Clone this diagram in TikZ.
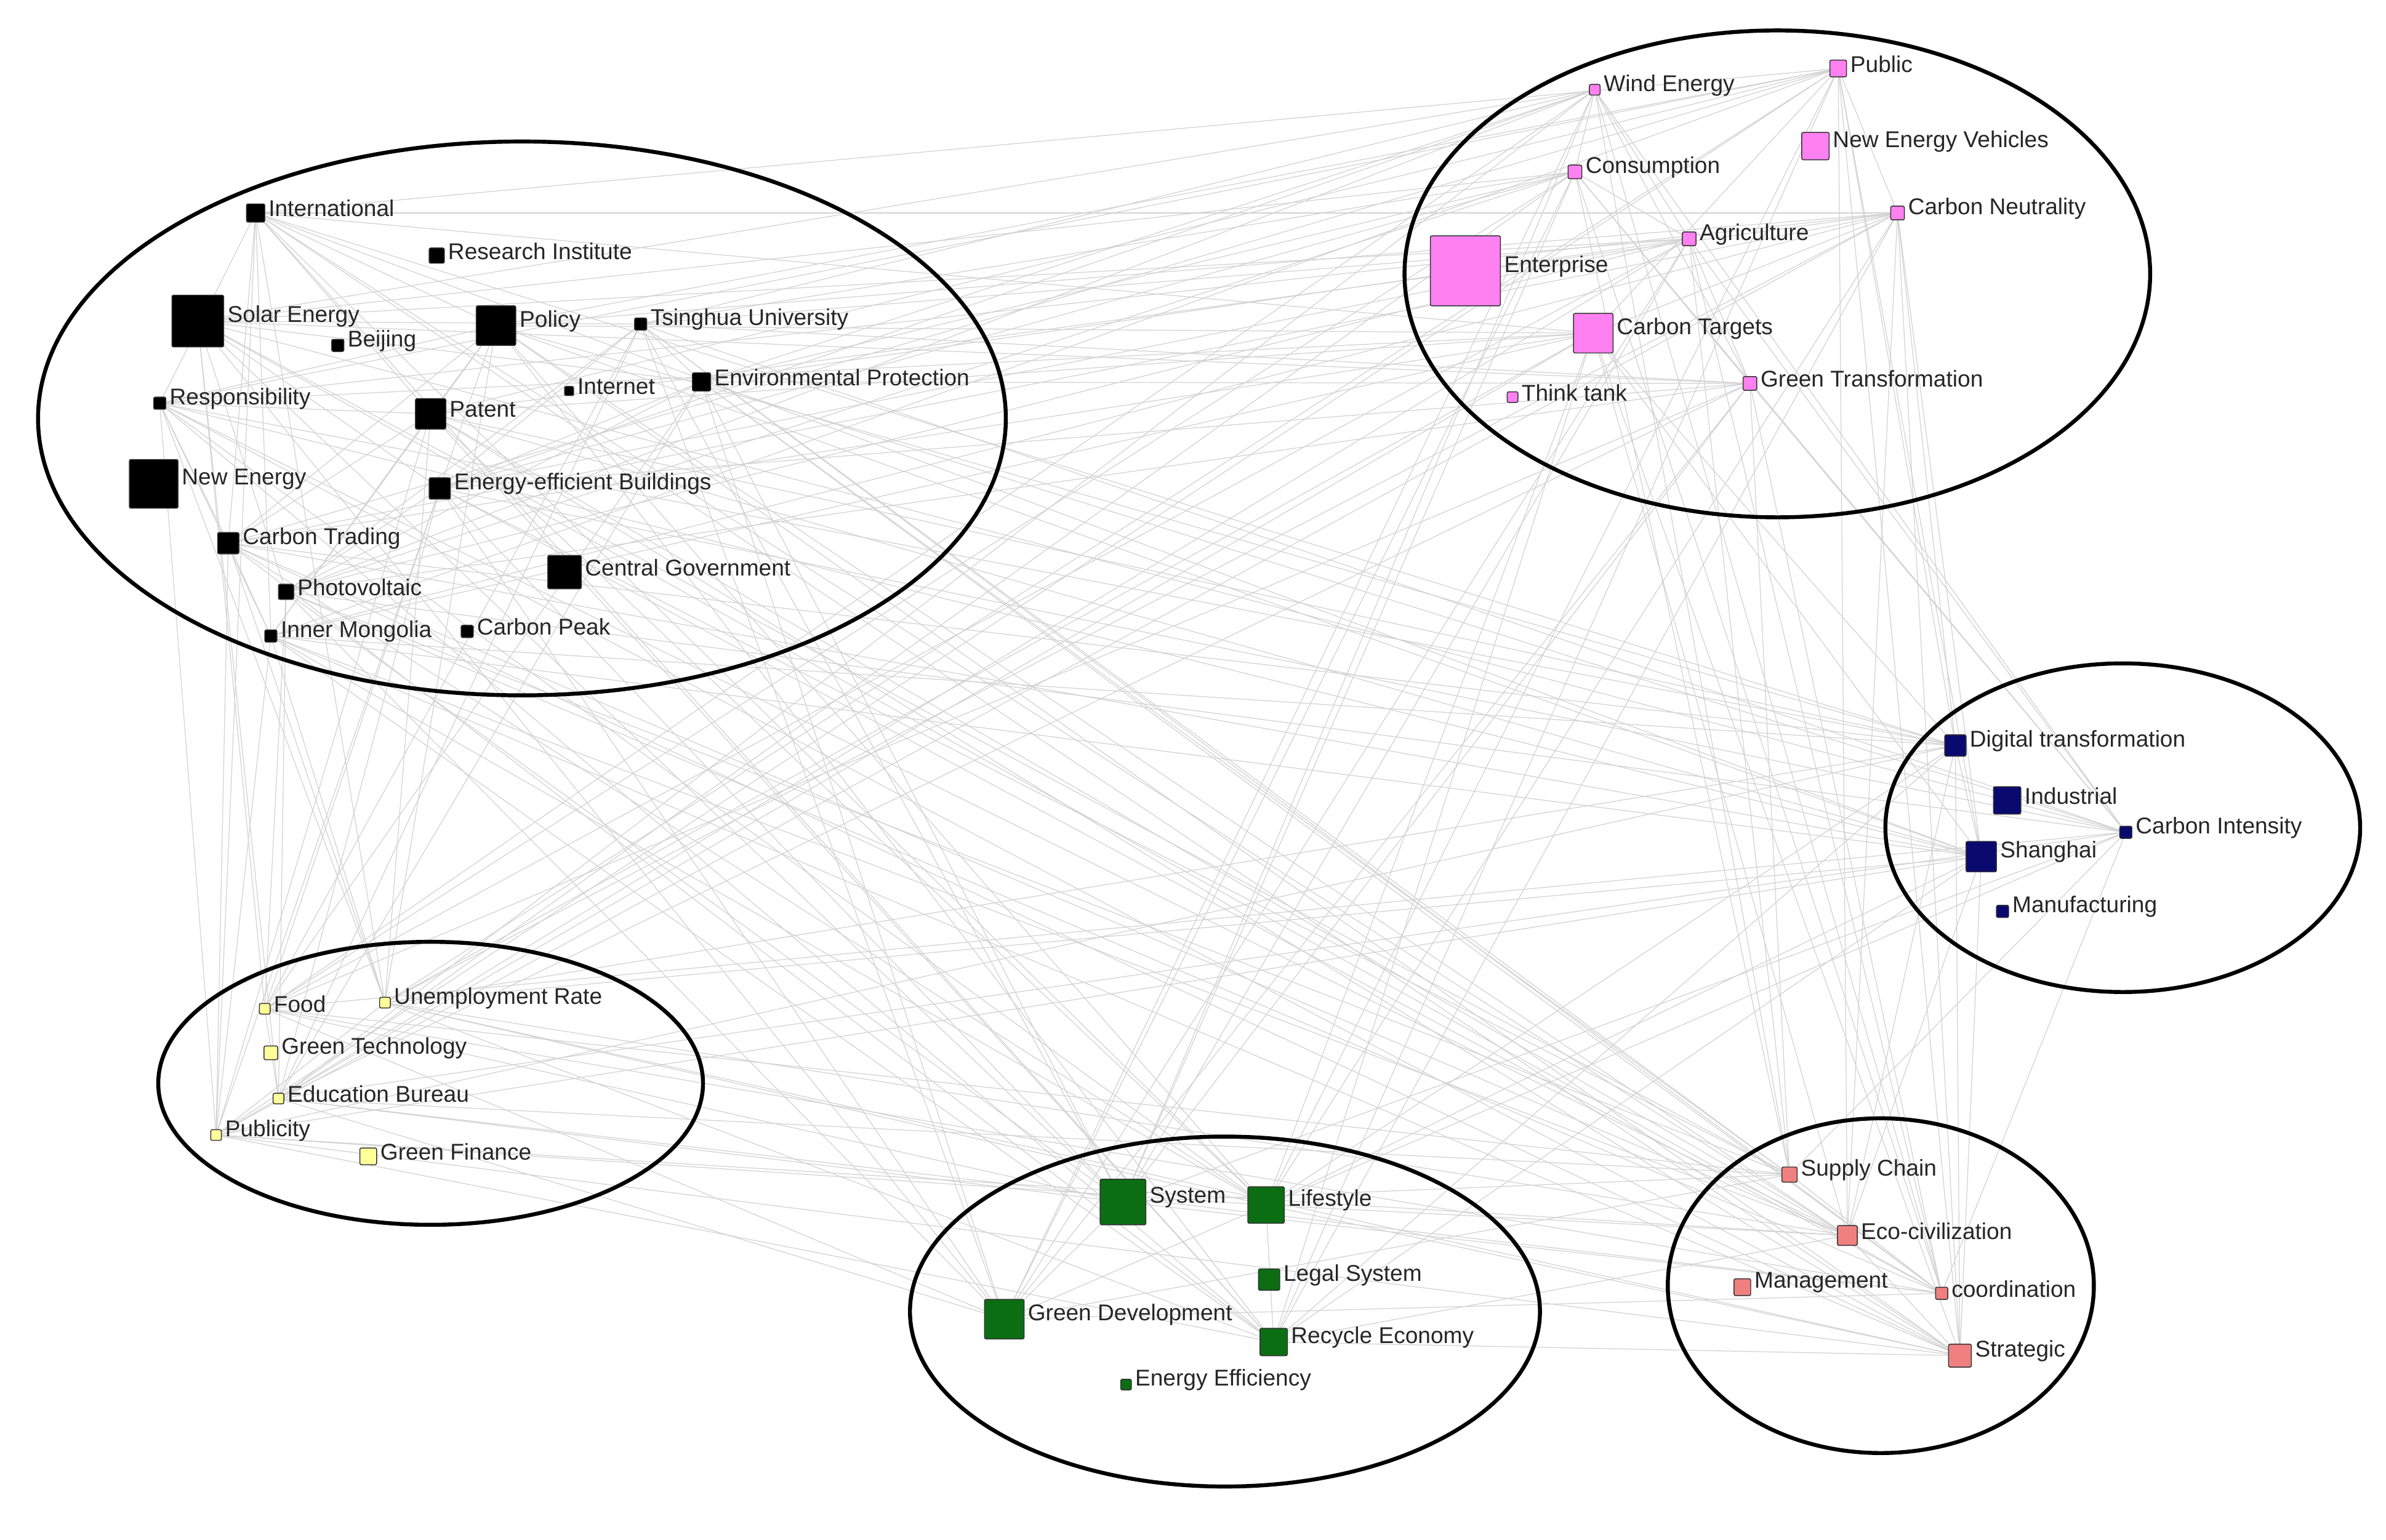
\documentclass[tikz,border=0pt]{standalone}
\usepackage{fontspec}
\setmainfont{Liberation Sans}
\usetikzlibrary{backgrounds,shapes.geometric}
\definecolor{cpink}{HTML}{FF80F0}
\definecolor{cblue}{HTML}{0A0A6E}
\definecolor{cyel}{HTML}{FFFF99}
\definecolor{cgreen}{HTML}{0B6E12}
\definecolor{cred}{HTML}{F08080}
\tikzset{
 sq/.style={draw=black!80,line width=0.6pt,inner sep=0pt,rounded corners=1pt},
 lab/.style={anchor=west,inner sep=1pt,font=\fontsize{15}{16}\selectfont,text=black!85},
 edge/.style={draw=gray!35,line width=0.5pt},
 clus/.style={draw=black,line width=2.6pt,ellipse,inner sep=0pt}
}
\begin{document}
\begin{tikzpicture}[x=1pt,y=-1pt]
\useasboundingbox (0,0) rectangle (1568,1012);
\foreach \x/\y/\s/\c/\t [count=\k] in {
168/140/12/black/International,
287/168/10/black/Research Institute,
130/211/34/black/Solar Energy,
326/214/26/black/Policy,
222/227/8/black/Beijing,
421/213/8/black/Tsinghua University,
105/265/8/black/Responsibility,
374/257/6/black/Internet,
461/251/12/black/Environmental Protection,
283/272/20/black/Patent,
101/318/32/black/New Energy,
289/321/14/black/Energy-efficient Buildings,
150/357/14/black/Carbon Trading,
371/376/22/black/Central Government,
188/389/10/black/Photovoltaic,
178/418/8/black/Inner Mongolia,
307/415/8/black/Carbon Peak,
1048/59/7/cpink/Wind Energy,
1208/45/11/cpink/Public,
1193/96/18/cpink/New Energy Vehicles,
1035/113/9/cpink/Consumption,
1247/140/9/cpink/Carbon Neutrality,
963/178/46/cpink/Enterprise,
1110/157/9/cpink/Agriculture,
1047/219/26/cpink/Carbon Targets,
994/261/7/cpink/Think tank,
1150/252/9/cpink/Green Transformation,
1285/490/14/cblue/Digital transformation,
1319/526/18/cblue/Industrial,
1397/547/8/cblue/Carbon Intensity,
1302/563/20/cblue/Shanghai,
1316/599/8/cblue/Manufacturing,
174/663/7/cyel/Food,
253/659/7/cyel/Unemployment Rate,
178/692/9/cyel/Green Technology,
183/722/7/cyel/Education Bureau,
142/746/7/cyel/Publicity,
242/760/11/cyel/Green Finance,
738/790/30/cgreen/System,
832/792/24/cgreen/Lifestyle,
834/841/14/cgreen/Legal System,
660/867/26/cgreen/Green Development,
837/882/18/cgreen/Recycle Economy,
740/910/7/cgreen/Energy Efficiency,
1176/772/10/cred/Supply Chain,
1214/812/13/cred/Eco-civilization,
1145/846/11/cred/Management,
1276/850/8/cred/coordination,
1288/891/15/cred/Strategic}
{
 \node[sq,fill=\c,minimum size=\s pt] (n\k) at (\x,\y) {};
 \node[lab] (l\k) at ([xshift=1pt,yshift=3pt]n\k.east) {\t};
}
\begin{pgfonlayer}{background}
\foreach \i in {1,...,49}{
 \foreach \j in {1,...,49}{
  \ifnum\i<\j
   \pgfmathtruncatemacro\r{mod(\i*7+\j*13+\i*\j,3)}
   \ifnum\r=0 \draw[edge] (n\i) -- (n\j); \fi
  \fi
 }
}
\end{pgfonlayer}
\node[clus,minimum width=636pt,minimum height=364pt] (e1) at (343,275) {};
\node[clus,minimum width=490pt,minimum height=320pt] (e2) at (1168,180) {};
\node[clus,minimum width=312pt,minimum height=216pt] (e3) at (1395,544) {};
\node[clus,minimum width=358pt,minimum height=186pt] (e4) at (283,712) {};
\node[clus,minimum width=414pt,minimum height=230pt] (e5) at (805,862) {};
\node[clus,minimum width=280pt,minimum height=220pt] (e6) at (1236,845) {};
\end{tikzpicture}
\end{document}
